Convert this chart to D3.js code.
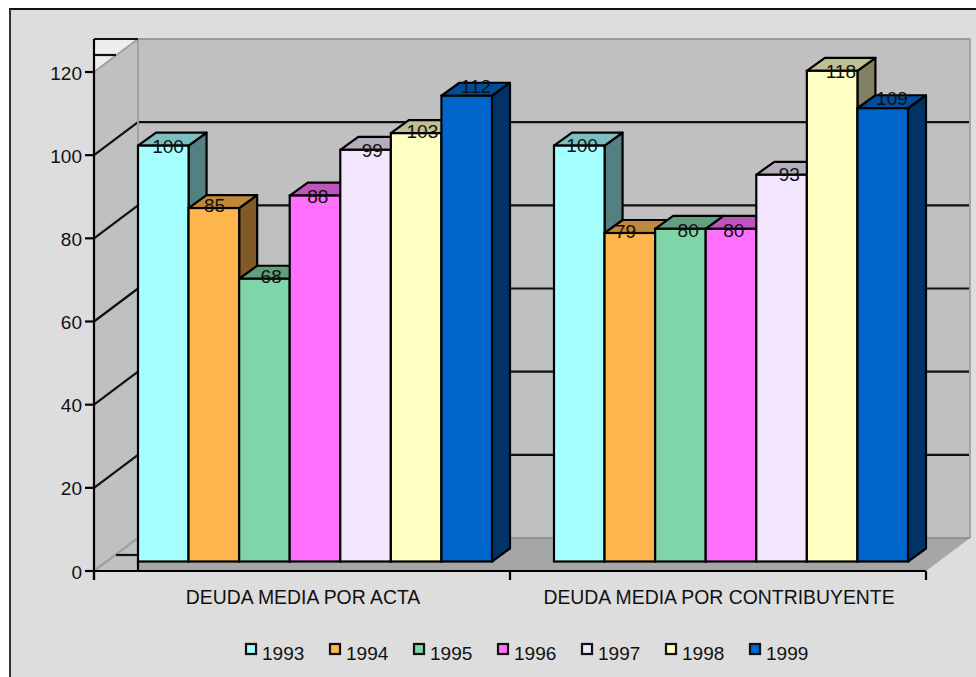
<!DOCTYPE html>
<html><head><meta charset="utf-8">
<script src="https://cdn.jsdelivr.net/npm/d3@7/dist/d3.min.js"></script>
<style>html,body{margin:0;padding:0;background:#fff;overflow:hidden}svg{display:block}text{font-family:"Liberation Sans",Arial,sans-serif;fill:#111}</style>
</head><body><svg id="c" width="976" height="677"></svg>
<script>
const categories = ["DEUDA MEDIA POR ACTA", "DEUDA MEDIA POR CONTRIBUYENTE"];
const years = ["1993","1994","1995","1996","1997","1998","1999"];
const actaValues = [100, 85, 68, 88, 99, 103, 112];
const contribuyenteValues = [100, 79, 80, 80, 93, 118, 109];
const yTicks = [0, 20, 40, 60, 80, 100, 120];
const colors = ["#A6FFFF","#FFB54D","#80D5A8","#FF70FF","#F2E6FF","#FFFFC4","#0066CC"];
const series = [actaValues, contribuyenteValues];
// the reference's value labels sit unevenly on their bars
const labelDx = [[30,26,32,28,32,31.5,34.5],[28,21,33,28,33,34,34.5]];
const labelDy = [[7,4,4,7,7,5,-3],[6,5,8,8,6,7,-3]];

const svg = d3.select("#c");
const fs = 19, fsCat = 19.4, lw = 2.2;
const D = {x:44, y:-33};      // wall depth
const B = {x:18, y:-13};      // bar depth
const left = 94, right = 926, base = 571, barBase = 9.5;
const y = d3.scaleLinear().domain([0,120]).range([base, 72]);
const x0 = d3.scaleBand().domain(categories).range([left, right]);
const x1 = d3.scaleBand().domain(years).range([44, 398]);
const poly = (pts, fill, stroke, sw) => svg.append("polygon")
  .attr("points", pts.map(p=>p.join(",")).join(" "))
  .attr("fill", fill).attr("stroke", stroke||"none").attr("stroke-width", sw||0)
  .attr("stroke-linejoin","round");
const line = (a,b,c,d,stroke,sw) => svg.append("line")
  .attr("x1",a).attr("y1",b).attr("x2",c).attr("y2",d)
  .attr("stroke",stroke||"#111").attr("stroke-width",sw||lw);

// chart area
svg.append("rect").attr("x",10).attr("y",9).attr("width",980).attr("height",680)
  .attr("fill","#DDDDDD").attr("stroke","#111").attr("stroke-width",2);
svg.append("line").attr("x1",10).attr("y1",9).attr("x2",10).attr("y2",677).attr("stroke","#333").attr("stroke-width",2);

// walls
const yTop = y(120), yBase = y(0);
poly([[left,yTop+D.y],[left+D.x,yTop+D.y],[left,yTop]], "#EEEEEE");
poly([[left,yBase],[left+D.x,yBase+D.y],[left+D.x,yTop+D.y],[left,yTop]], "#C0C0C0");
poly([[left,yBase],[left+D.x,yBase+D.y],[left+D.x,yBase]], "#C0C0C0");
poly([[left+D.x,yTop+D.y],[right+D.x,yTop+D.y],[right+D.x,yBase+D.y],[left+D.x,yBase+D.y]], "#C0C0C0");
poly([[left+D.x,yBase],[left+D.x,yBase+D.y],[right+D.x,yBase+D.y],[right,yBase]], "#A6A6A6");

// gridlines
yTicks.forEach(t=>{
  const v=y(t);
  if(t>0 && t<120){
    line(left,v,left+D.x,v+D.y);
    line(left+D.x,v+D.y,right+D.x-1,v+D.y);
  }
});
line(left,yTop,left+D.x,yTop+D.y,"#A0A0A0",2);
line(left,yBase,left+D.x,yBase+D.y,"#A0A0A0",2.4);
line(left+D.x,yTop+D.y,right+D.x,yTop+D.y,"#999",2);
line(left+D.x,yTop+D.y,left+D.x,yBase+D.y,"#A0A0A0",2);
line(right+D.x,yTop+D.y,right+D.x,yBase+D.y,"#999",1.6);
line(left+D.x,yBase+D.y,right+D.x,yBase+D.y,"#888",1.6);
line(left,yTop+D.y,left+D.x,yTop+D.y);
line(left,yTop+D.y+16,left+22,yTop+D.y+16);
line(left+D.x-22,yBase-16,left+D.x,yBase-16);

// bars
const dk = (c,k)=>{const r=d3.rgb(c);return d3.rgb(r.r*k,r.g*k,r.b*k).formatHex();};
const yb = base - barBase;
const barTop = v => y(v) - barBase;
categories.forEach((cat,ci)=>{
  years.forEach((yr,i)=>{
    const v=series[ci][i], xa=x0(cat)+x1(yr), xb=xa+x1.bandwidth(), ya=barTop(v);
    poly([[xb,yb],[xb+B.x,yb+B.y],[xb+B.x,ya+B.y],[xb,ya]], dk(colors[i],.5), "#000", lw);
    poly([[xa,ya],[xa+B.x,ya+B.y],[xb+B.x,ya+B.y],[xb,ya]], dk(colors[i],.75), "#000", lw);
    svg.append("rect").attr("x",xa).attr("y",ya).attr("width",xb-xa).attr("height",yb-ya)
      .attr("fill",colors[i]).attr("stroke","#000").attr("stroke-width",lw);
  });
});
categories.forEach((cat,ci)=>{
  years.forEach((yr,i)=>{
    const v=series[ci][i], xa=x0(cat)+x1(yr);
    svg.append("text").attr("x",xa+labelDx[ci][i]).attr("y",barTop(v)+labelDy[ci][i]).attr("text-anchor","middle")
      .attr("font-size",fs).text(v);
  });
});

// axes
line(left,yTop+D.y,left,base+9,"#000",lw);
line(left,base,right,base,"#000",lw);
line(left+D.x,yb,left+D.x,base,"#000",lw);
[left,x0(categories[1]),right].forEach(v=>line(v,base,v,base+9,"#000",lw));
yTicks.forEach(t=>{
  line(left-9,y(t),left,y(t),"#000",lw);
  svg.append("text").attr("x",82).attr("y",y(t)+7.5).attr("text-anchor","end").attr("font-size",fs).text(t);
});
categories.forEach(c=>svg.append("text").attr("x",x0(c)+x0.bandwidth()/2+1).attr("y",604)
  .attr("text-anchor","middle").attr("font-size",fsCat).text(c));

// legend
const lx = d3.scalePoint().domain(years).range([246,750]);
years.forEach((yr,i)=>{
  svg.append("rect").attr("x",lx(yr)).attr("y",644).attr("width",10).attr("height",10)
    .attr("fill",colors[i]).attr("stroke","#111").attr("stroke-width",lw);
  svg.append("text").attr("x",lx(yr)+16).attr("y",659.5).attr("font-size",fs).text(yr);
});
</script></body></html>
